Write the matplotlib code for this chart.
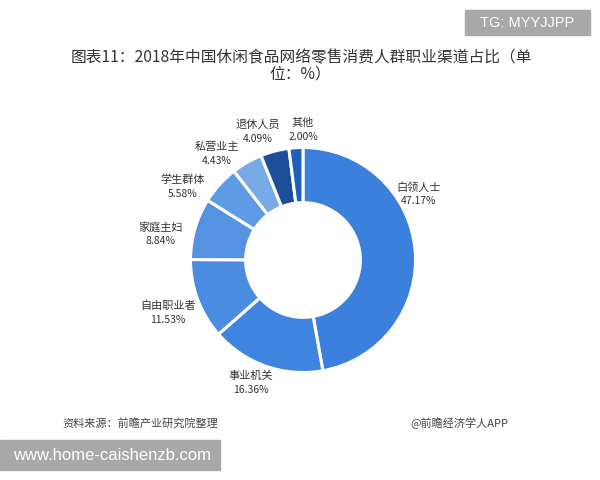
import numpy as np
import matplotlib
matplotlib.use("Agg")
import matplotlib.pyplot as plt
from matplotlib.patches import Rectangle

plt.rcParams["font.family"] = ["Noto Sans CJK SC", "DejaVu Sans"]

# 数据
labels = ["白领人士", "事业机关", "自由职业者", "家庭主妇", "学生群体", "私营业主", "退休人员", "其他"]
values = [47.17, 16.36, 11.53, 8.84, 5.58, 4.43, 4.09, 2.00]
colors = ["#3a80dc", "#3f84de", "#4a8ce0", "#5593e2", "#5f9ae4", "#78aae8", "#1d4f99", "#2160b8"]

# 标签位置（像素，图片坐标）
label_pos = [(419, 187), (251, 376), (168, 306), (161, 227), (183, 180), (217, 147), (258, 125), (303, 123)]

W, H = 600, 480
fig = plt.figure(figsize=(6, 4.8), dpi=100)
ax = fig.add_axes([0, 0, 1, 1])

cx, cy, r = 303, H - 260, 112.5
ax.pie(values, colors=colors, startangle=90, counterclock=False,
       center=(cx, cy), radius=r, frame=True,
       wedgeprops=dict(width=r * 0.49, edgecolor="white", linewidth=2.2))
ax.set_xlim(0, W)
ax.set_ylim(0, H)
ax.set_aspect("equal")
ax.axis("off")

for name, v, (px, py) in zip(labels, values, label_pos):
    ax.text(px, H - py, name, ha="center", va="center", fontsize=8, color="#333333")
    ax.text(px, H - py - 14, f"{v:.2f}%", ha="center", va="center", fontsize=7.5, color="#333333")

# 标题
ax.text(301, H - 58, "图表11：2018年中国休闲食品网络零售消费人群职业渠道占比（单",
        ha="center", va="center", fontsize=11.3, color="#333333")
ax.text(300, H - 74, "位：%）", ha="center", va="center", fontsize=11.3, color="#333333")

# 脚注
ax.text(62, H - 423, "资料来源：前瞻产业研究院整理", ha="left", va="center",
        fontsize=8, color="#444444", style="italic")
ax.text(410, H - 423, "@前瞻经济学人APP", ha="left", va="center", fontsize=8, color="#444444")

# 水印框
ax.add_patch(Rectangle((465, H - 35), 125, 25, color="#a8a8a8", zorder=5))
ax.text(527, H - 23, "TG: MYYJJPP", ha="center", va="center", fontsize=10.5,
        color="white", family="Liberation Sans", zorder=6)
ax.add_patch(Rectangle((0, H - 470), 220, 30, color="#a8a8a8", zorder=5))
ax.text(112, H - 455, "www.home-caishenzb.com", ha="center", va="center", fontsize=12,
        color="white", family="Liberation Sans", zorder=6)

fig.savefig("out.png", dpi=100)
